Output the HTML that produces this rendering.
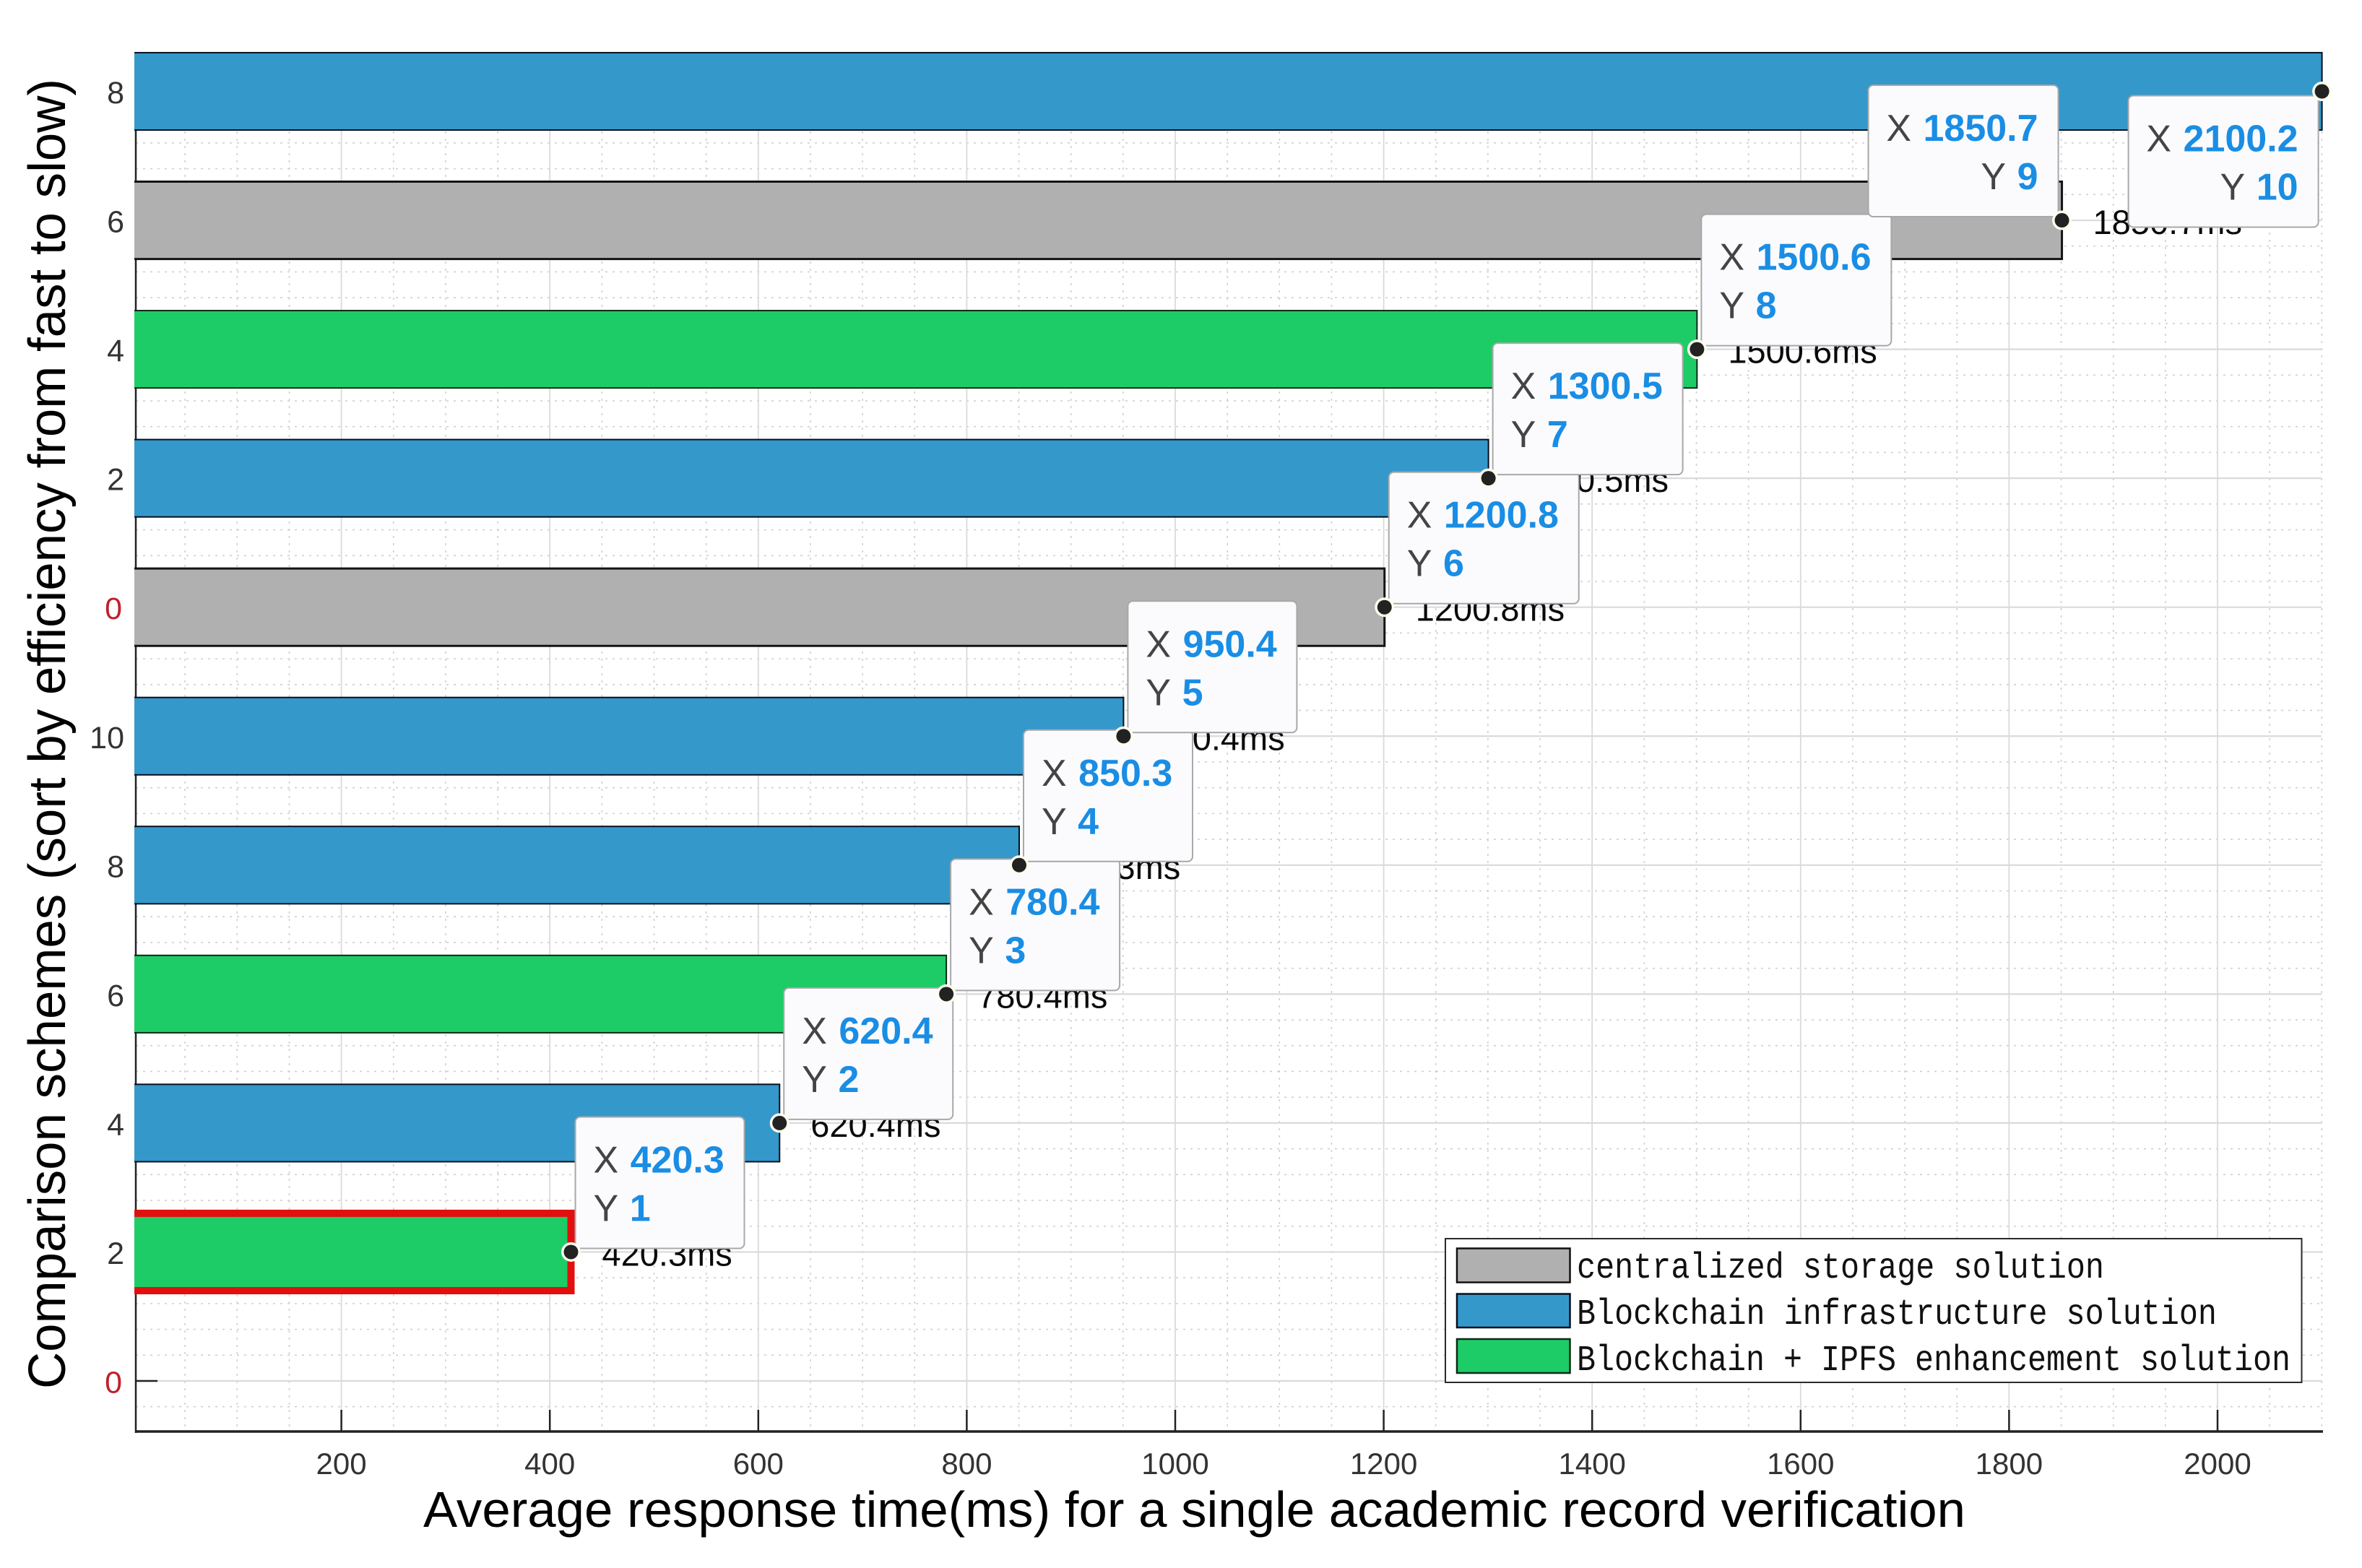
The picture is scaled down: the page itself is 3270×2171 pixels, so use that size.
<!DOCTYPE html>
<html lang="en">
<head>
<meta charset="utf-8">
<title>Average response time per scheme</title>
<style>
html,body{margin:0;padding:0;background:#fff;width:3270px;height:2171px;overflow:hidden}
svg{display:block}
text{font-family:"Liberation Sans",sans-serif}
.legend-text{font-family:"Liberation Mono",monospace;font-size:50px;fill:#111}
</style>
</head>
<body>
<svg id="chart" xmlns="http://www.w3.org/2000/svg" width="3270" height="2171" viewBox="0 0 3270 2171">
  <defs>
    <clipPath id="plot-clip"><rect x="186" y="0" width="3084" height="2171"/></clipPath>
  </defs>
  <rect x="0" y="0" width="3270" height="2171" fill="#ffffff"/>
  <g id="grid"></g>
  <g id="axes"></g>
  <g id="bars" clip-path="url(#plot-clip)"></g>
  <g id="ticks"></g>
  <g id="labels"></g>
  <g id="tips"></g>
  <g id="dots"></g>

  <text x="90" y="1923" transform="rotate(-90 90 1923)" font-size="72" fill="#000" textLength="1814" lengthAdjust="spacingAndGlyphs">Comparison schemes (sort by efficiency from fast to slow)</text>
  <text x="586" y="2114" font-size="70" fill="#000" textLength="2135" lengthAdjust="spacingAndGlyphs">Average response time(ms) for a single academic record verification</text>

  <g>
    <rect x="2001" y="1715" width="1185.5" height="199" fill="#ffffff" stroke="#2a2a2a" stroke-width="2"/>
    <rect x="2017" y="1728.5" width="156.5" height="47" fill="#b0b0b0" stroke="#111" stroke-width="2.5"/>
    <text class="legend-text" x="2183" y="1769" textLength="730" lengthAdjust="spacingAndGlyphs">centralized storage solution</text>
    <rect x="2017" y="1791.5" width="156.5" height="46.5" fill="#3498cb" stroke="#07101e" stroke-width="2.5"/>
    <text class="legend-text" x="2183" y="1833" textLength="886" lengthAdjust="spacingAndGlyphs">Blockchain infrastructure solution</text>
    <rect x="2017" y="1854" width="156.5" height="47" fill="#1dcc66" stroke="#0d2a18" stroke-width="2.5"/>
    <text class="legend-text" x="2183" y="1897" textLength="988" lengthAdjust="spacingAndGlyphs">Blockchain + IPFS enhancement solution</text>
  </g>
</svg>
<script>
const schemeRanks = [1, 2, 3, 4, 5, 6, 7, 8, 9, 10];
const responseTimes = [420.3, 620.4, 780.4, 850.3, 950.4, 1200.8, 1300.5, 1500.6, 1850.7, 2100.2];
const schemeKinds = ['ipfs', 'chain', 'ipfs', 'chain', 'chain', 'central', 'chain', 'ipfs', 'central', 'chain'];
const xTickValues = [200, 400, 600, 800, 1000, 1200, 1400, 1600, 1800, 2000];
const yTickLabels = ['0', '2', '4', '6', '8', '10', '0', '2', '4', '6', '8'];
const highlightedRank = 1;

const NS = 'http://www.w3.org/2000/svg';
const xScale = v => 184 + 1.443 * v;
const yScale = v => 1912 - 178.55 * v;
const PLOT_LEFT = 188, PLOT_RIGHT = 3216, PLOT_BOTTOM = 1982, PLOT_TOP = 72;
const BAR_HEIGHT = yScale(0) - yScale(0.6);
const kindFill = {central: '#b0b0b0', chain: '#3498cb', ipfs: '#1dcc66'};
const kindStroke = {central: '#141414', chain: '#07101e', ipfs: '#0d2a18'};

function make(tag, attrs, parent) {
  const node = document.createElementNS(NS, tag);
  for (const key in attrs) node.setAttribute(key, attrs[key]);
  parent.appendChild(node);
  return node;
}
const gridG = document.getElementById('grid');
const axesG = document.getElementById('axes');
const barsG = document.getElementById('bars');
const ticksG = document.getElementById('ticks');
const labelsG = document.getElementById('labels');
const tipsG = document.getElementById('tips');
const dotsG = document.getElementById('dots');

/* minor vertical grid every 50 */
for (let v = 50; v <= 2100; v += 50) {
  if (v % 200 === 0) continue;
  const line = make('line', {x1: xScale(v), x2: xScale(v), y1: PLOT_TOP, y2: PLOT_BOTTOM, stroke: '#cfcfcf', 'stroke-width': 1.6, 'stroke-dasharray': '3 7'}, gridG);
  
  
}
/* minor horizontal grid every 0.2 */
for (let i = -1; i <= 51; i++) {
  if (i % 5 === 0) continue;
  const line = make('line', {x1: PLOT_LEFT, x2: PLOT_RIGHT - 2, y1: yScale(i / 5), y2: yScale(i / 5), stroke: '#cfcfcf', 'stroke-width': 1.6, 'stroke-dasharray': '3 7'}, gridG);
  
  
}
/* major grid */
xTickValues.forEach(v => {
  const line = make('line', {x1: xScale(v), x2: xScale(v), y1: PLOT_TOP, y2: PLOT_BOTTOM, stroke: '#dadada', 'stroke-width': 1.8}, gridG);
  
  
});
yTickLabels.forEach((label, i) => {
  const line = make('line', {x1: PLOT_LEFT, x2: PLOT_RIGHT - 2, y1: yScale(i), y2: yScale(i), stroke: '#dadada', 'stroke-width': 2.2}, gridG);
  
  
});

const yAxisLine = make('line', {x1: PLOT_LEFT, x2: PLOT_LEFT, y1: PLOT_TOP, y2: PLOT_BOTTOM + 2, stroke: '#222', 'stroke-width': 2.5}, axesG);



/* y ticks and labels */
yTickLabels.forEach((label, i) => {
  const tick = make('line', {x1: PLOT_LEFT, x2: PLOT_LEFT + 30, y1: yScale(i), y2: yScale(i), stroke: '#222', 'stroke-width': 2.5}, axesG);
  
  
  const isZero = label === '0';
  const text = make('text', {x: isZero ? 169 : 172, y: yScale(i) + 16.5, 'text-anchor': 'end', 'font-size': 43, fill: isZero ? '#c0202c' : '#333'}, axesG);
  text.textContent = label;
  
  
});

/* bars */
responseTimes.forEach((value, i) => {
  const rank = schemeRanks[i];
  const kind = schemeKinds[i];
  const hot = rank === highlightedRank;
  const bar = make('rect', {
    x: PLOT_LEFT - 10,
    y: yScale(rank) - BAR_HEIGHT / 2,
    width: xScale(value) - PLOT_LEFT + 10,
    height: BAR_HEIGHT,
    fill: kindFill[kind],
    stroke: hot ? '#e20f0f' : kindStroke[kind],
    'stroke-width': hot ? 10 : (kind === 'central' ? 3 : 2)
  }, barsG);
  
  
});

/* bottom axis + x ticks */
const xAxisLine = make('line', {x1: PLOT_LEFT - 1, x2: PLOT_RIGHT, y1: PLOT_BOTTOM, y2: PLOT_BOTTOM, stroke: '#222', 'stroke-width': 3.5}, ticksG);


xTickValues.forEach(v => {
  const tick = make('line', {x1: xScale(v), x2: xScale(v), y1: PLOT_BOTTOM - 30, y2: PLOT_BOTTOM, stroke: '#222', 'stroke-width': 2.5}, ticksG);
  
  
  const text = make('text', {x: xScale(v), y: 2041, 'text-anchor': 'middle', 'font-size': 42, fill: '#333'}, ticksG);
  text.textContent = String(v);
  
  
});

/* value labels, data tips, data points */
responseTimes.forEach((value, i) => {
  const rank = schemeRanks[i];
  const px = xScale(value), py = yScale(rank);

  /* a label that would start past the plot's right edge is cut off, so it is not drawn */
  if (px + 44 < PLOT_RIGHT) {
    const label = make('text', {x: px + 43, y: py + 19, 'font-size': 47, fill: '#0a0a0a'}, labelsG);
    label.textContent = value.toFixed(1) + 'ms';
    
    
  }

  const w = value < 1000 ? 234 : 263;
  const h = 182;
  const flipLeft = px + 6 + w * 1.5 > PLOT_RIGHT;
  const flipBelow = py - 187 < 0;
  const left = flipLeft ? px - 5 - w : px + 6;
  const top = flipBelow ? py + 6 : py - 187;

  const tip = make('g', {}, tipsG);
  
  
  const box = make('rect', {x: left, y: top, width: w, height: h, rx: 7, ry: 7, fill: '#fbfbfd', stroke: '#a8a8a8', 'stroke-width': 2}, tip);
  
  

  [['X', value.toFixed(1), 77], ['Y', String(rank), 144]].forEach(row => {
    const line = make('text', {
      x: flipLeft ? left + w - 28 : left + 25,
      y: top + row[2],
      'text-anchor': flipLeft ? 'end' : 'start',
      'font-size': 52,
      fill: '#444'
    }, tip);
    
    
    const keySpan = make('tspan', {}, line);
    keySpan.textContent = row[0] + ' ';
    const valueSpan = make('tspan', {'font-weight': 'bold', fill: '#1a8de4', dx: 2}, line);
    valueSpan.textContent = row[1];
  });

  const halo = make('circle', {cx: px, cy: py, r: 13.5, fill: '#fdfdee'}, dotsG);
  
  
  const dot = make('circle', {cx: px, cy: py, r: 10, fill: '#222'}, dotsG);
  
  
});
</script>
</body>
</html>
